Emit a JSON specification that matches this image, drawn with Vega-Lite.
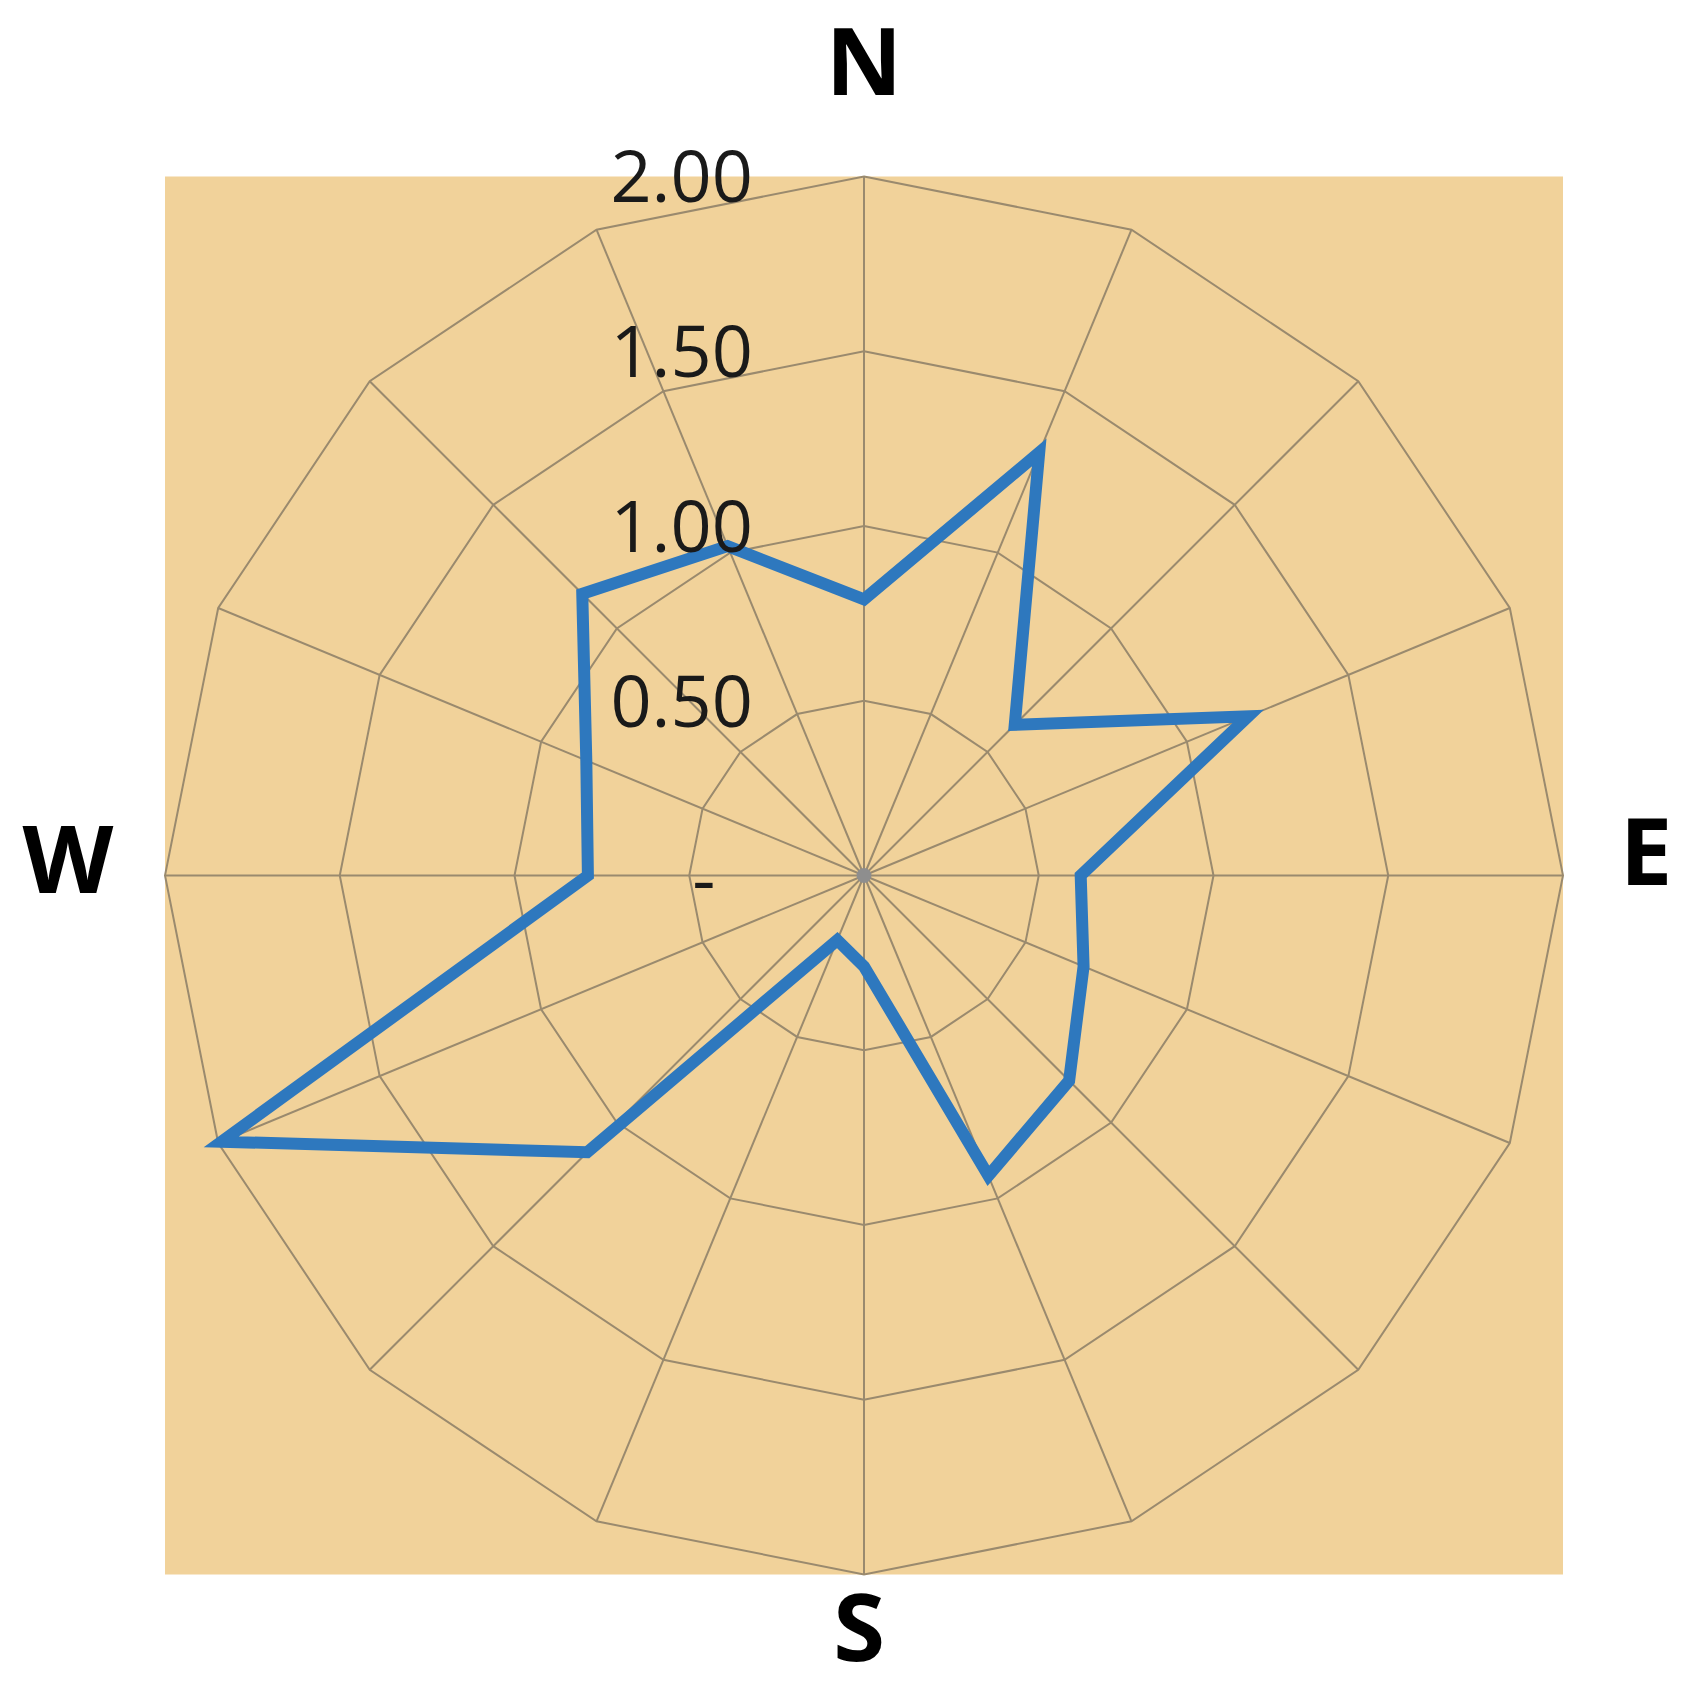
{
  "$schema": "https://vega.github.io/schema/vega-lite/v6.json",
  "autosize": "none",
  "width": 1694,
  "height": 1685,
  "padding": 0,
  "background": "white",
  "config": {"view": {"stroke": null}},
  "datasets": {
    "dirs": [
      {"dir": "N", "i": 0, "value": 0.79},
      {"dir": "NNE", "i": 1, "value": 1.31},
      {"dir": "NE", "i": 2, "value": 0.61},
      {"dir": "ENE", "i": 3, "value": 1.19},
      {"dir": "E", "i": 4, "value": 0.62},
      {"dir": "ESE", "i": 5, "value": 0.68},
      {"dir": "SE", "i": 6, "value": 0.83},
      {"dir": "SSE", "i": 7, "value": 0.93},
      {"dir": "S", "i": 8, "value": 0.26},
      {"dir": "SSW", "i": 9, "value": 0.2},
      {"dir": "SW", "i": 10, "value": 1.12},
      {"dir": "WSW", "i": 11, "value": 1.99},
      {"dir": "W", "i": 12, "value": 0.79},
      {"dir": "WNW", "i": 13, "value": 0.86},
      {"dir": "NW", "i": 14, "value": 1.14},
      {"dir": "NNW", "i": 15, "value": 1.02}
    ],
    "ticks": [
      {"level": 2, "label": "2.00"},
      {"level": 1.5, "label": "1.50"},
      {"level": 1, "label": "1.00"},
      {"level": 0.5, "label": "0.50"}
    ],
    "one": [{}]
  },
  "layer": [
    {
      "data": {"name": "one"},
      "mark": {"type": "rect", "fill": "#F1D29A"},
      "encoding": {
        "x": {"datum": -2, "type": "quantitative", "scale": {"domain": [-2.4721, 2.3748], "nice": false, "zero": false}, "axis": null},
        "x2": {"datum": 2},
        "y": {"datum": -2, "type": "quantitative", "scale": {"domain": [-2.3162, 2.505], "nice": false, "zero": false}, "axis": null},
        "y2": {"datum": 2}
      }
    },
    {
      "data": {"name": "dirs"},
      "transform": [
        {"calculate": "[0.5, 1, 1.5, 2]", "as": "ring"},
        {"flatten": ["ring"]},
        {"calculate": "datum.ring * sin(datum.i * PI / 8)", "as": "gx"},
        {"calculate": "datum.ring * cos(datum.i * PI / 8)", "as": "gy"}
      ],
      "mark": {"type": "line", "interpolate": "linear-closed", "stroke": "#9A8A6E", "strokeWidth": 2},
      "encoding": {
        "x": {"field": "gx", "type": "quantitative", "scale": {"domain": [-2.4721, 2.3748], "nice": false, "zero": false}, "axis": null},
        "y": {"field": "gy", "type": "quantitative", "scale": {"domain": [-2.3162, 2.505], "nice": false, "zero": false}, "axis": null},
        "detail": {"field": "ring", "type": "nominal"},
        "order": {"field": "i", "type": "quantitative"}
      }
    },
    {
      "data": {"name": "dirs"},
      "transform": [
        {"calculate": "2 * sin(datum.i * PI / 8)", "as": "sx"},
        {"calculate": "2 * cos(datum.i * PI / 8)", "as": "sy"}
      ],
      "mark": {"type": "rule", "stroke": "#9A8A6E", "strokeWidth": 2},
      "encoding": {
        "x": {"field": "sx", "type": "quantitative", "scale": {"domain": [-2.4721, 2.3748], "nice": false, "zero": false}, "axis": null},
        "y": {"field": "sy", "type": "quantitative", "scale": {"domain": [-2.3162, 2.505], "nice": false, "zero": false}, "axis": null},
        "x2": {"datum": 0},
        "y2": {"datum": 0}
      }
    },
    {
      "data": {"name": "one"},
      "mark": {"type": "point", "filled": true, "color": "#8E8E8E", "size": 220, "opacity": 1},
      "encoding": {
        "x": {"datum": 0, "type": "quantitative", "scale": {"domain": [-2.4721, 2.3748], "nice": false, "zero": false}, "axis": null},
        "y": {"datum": 0, "type": "quantitative", "scale": {"domain": [-2.3162, 2.505], "nice": false, "zero": false}, "axis": null}
      }
    },
    {
      "data": {"name": "dirs"},
      "transform": [
        {"calculate": "datum.value * sin(datum.i * PI / 8)", "as": "px"},
        {"calculate": "datum.value * cos(datum.i * PI / 8)", "as": "py"}
      ],
      "mark": {"type": "line", "interpolate": "linear-closed", "stroke": "#2E78BE", "strokeWidth": 12, "strokeJoin": "miter"},
      "encoding": {
        "x": {"field": "px", "type": "quantitative", "scale": {"domain": [-2.4721, 2.3748], "nice": false, "zero": false}, "axis": null},
        "y": {"field": "py", "type": "quantitative", "scale": {"domain": [-2.3162, 2.505], "nice": false, "zero": false}, "axis": null},
        "order": {"field": "i", "type": "quantitative"}
      }
    },
    {
      "data": {"name": "ticks"},
      "mark": {"type": "text", "align": "right", "baseline": "alphabetic", "dy": 26, "fontSize": 72, "font": "Open Sans", "color": "#1A1A1A"},
      "encoding": {
        "x": {"datum": -0.318, "type": "quantitative", "scale": {"domain": [-2.4721, 2.3748], "nice": false, "zero": false}, "axis": null},
        "y": {"field": "level", "type": "quantitative", "scale": {"domain": [-2.3162, 2.505], "nice": false, "zero": false}, "axis": null},
        "text": {"field": "label", "type": "nominal"}
      }
    },
    {
      "data": {"name": "one"},
      "mark": {"type": "text", "text": "-", "align": "right", "baseline": "alphabetic", "dy": 30, "fontSize": 72, "font": "Open Sans", "color": "#1A1A1A"},
      "encoding": {
        "x": {"datum": -0.425, "type": "quantitative", "scale": {"domain": [-2.4721, 2.3748], "nice": false, "zero": false}, "axis": null},
        "y": {"datum": 0, "type": "quantitative", "scale": {"domain": [-2.3162, 2.505], "nice": false, "zero": false}, "axis": null}
      }
    },
    {
      "data": {"name": "one"},
      "mark": {"type": "text", "text": "N", "align": "center", "baseline": "alphabetic", "fontSize": 94, "fontWeight": "bold", "font": "Open Sans", "color": "black"},
      "encoding": {
        "x": {"datum": 0, "type": "quantitative", "scale": {"domain": [-2.4721, 2.3748], "nice": false, "zero": false}, "axis": null},
        "y": {"datum": 2.2346, "type": "quantitative", "scale": {"domain": [-2.3162, 2.505], "nice": false, "zero": false}, "axis": null}
      }
    },
    {
      "data": {"name": "one"},
      "mark": {"type": "text", "text": "E", "align": "center", "baseline": "alphabetic", "fontSize": 94, "fontWeight": "bold", "font": "Open Sans", "color": "black"},
      "encoding": {
        "x": {"datum": 2.2375, "type": "quantitative", "scale": {"domain": [-2.4721, 2.3748], "nice": false, "zero": false}, "axis": null},
        "y": {"datum": -0.0272, "type": "quantitative", "scale": {"domain": [-2.3162, 2.505], "nice": false, "zero": false}, "axis": null}
      }
    },
    {
      "data": {"name": "one"},
      "mark": {"type": "text", "text": "S", "align": "center", "baseline": "alphabetic", "fontSize": 94, "fontWeight": "bold", "font": "Open Sans", "color": "black"},
      "encoding": {
        "x": {"datum": -0.014, "type": "quantitative", "scale": {"domain": [-2.4721, 2.3748], "nice": false, "zero": false}, "axis": null},
        "y": {"datum": -2.2475, "type": "quantitative", "scale": {"domain": [-2.3162, 2.505], "nice": false, "zero": false}, "axis": null}
      }
    },
    {
      "data": {"name": "one"},
      "mark": {"type": "text", "text": "W", "align": "center", "baseline": "alphabetic", "fontSize": 94, "fontWeight": "bold", "font": "Open Sans", "color": "black"},
      "encoding": {
        "x": {"datum": -2.2775, "type": "quantitative", "scale": {"domain": [-2.4721, 2.3748], "nice": false, "zero": false}, "axis": null},
        "y": {"datum": -0.05, "type": "quantitative", "scale": {"domain": [-2.3162, 2.505], "nice": false, "zero": false}, "axis": null}
      }
    }
  ]
}
